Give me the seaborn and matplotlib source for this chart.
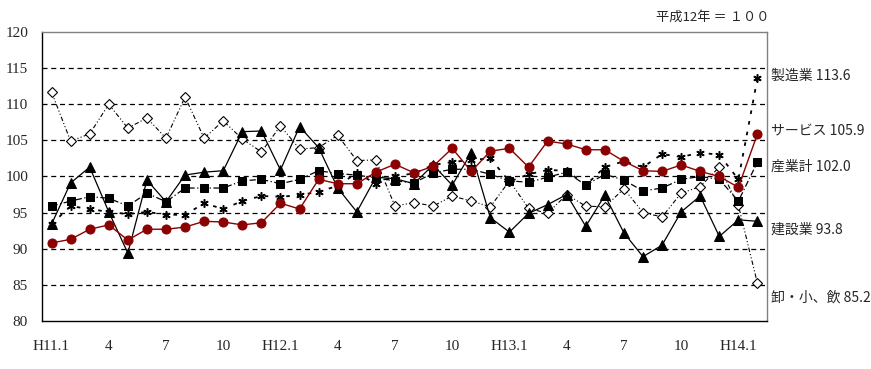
import numpy as np
import pandas as pd
import matplotlib
matplotlib.use("Agg")
import matplotlib.pyplot as plt
import seaborn as sns

# 平成11年1月〜平成14年2月（月次）
months = list(range(38))
tick_pos = list(range(0, 38, 3))
tick_labels = ["H11.1", "4", "7", "10", "H12.1", "4", "7", "10",
               "H13.1", "4", "7", "10", "H14.1"]

sangyo = [95.9, 96.6, 97.2, 97.0, 95.9, 97.7, 96.5, 98.4, 98.4, 98.4,
          99.4, 99.6, 99.0, 99.6, 100.8, 100.4, 100.2, 99.8, 99.4, 99.1,
          100.5, 101.0, 101.0, 100.3, 99.4, 99.2, 99.9, 100.6, 98.8, 100.3,
          99.5, 98.0, 98.4, 99.6, 100.0, 99.6, 96.6, 102.0]
seizo = [93.4, 95.9, 95.5, 95.1, 94.8, 95.1, 94.7, 94.7, 96.3, 95.5,
         96.6, 97.3, 97.2, 97.4, 97.9, 98.7, 100.5, 99.0, 100.1, 100.4,
         101.6, 102.0, 102.3, 102.5, 99.3, 100.3, 100.9, 100.8, 98.8, 101.3,
         102.1, 101.3, 103.1, 102.7, 103.3, 103.0, 99.6, 113.6]
kensetsu = [93.4, 99.1, 101.3, 95.1, 89.4, 99.5, 96.5, 100.2, 100.6, 100.8,
            106.2, 106.3, 100.9, 106.9, 104.0, 98.4, 95.1, 99.9, 99.7, 99.0,
            101.6, 98.8, 103.3, 94.3, 92.3, 94.9, 96.1, 97.5, 93.1, 97.4,
            92.2, 88.9, 90.5, 95.1, 97.3, 91.7, 94.0, 93.8]
oroshi = [111.7, 104.9, 105.9, 110.0, 106.7, 108.1, 105.3, 111.0, 105.3, 107.7,
          105.2, 103.4, 107.0, 103.8, 104.0, 105.7, 102.2, 102.3, 95.9, 96.4,
          95.9, 97.3, 96.6, 95.8, 99.4, 95.6, 94.9, 97.5, 95.9, 95.8,
          98.3, 95.0, 94.4, 97.7, 98.6, 101.3, 96.0, 85.2]
service = [90.8, 91.3, 92.7, 93.3, 91.2, 92.7, 92.7, 93.0, 93.8, 93.7,
           93.3, 93.6, 96.3, 95.5, 99.6, 99.0, 99.0, 100.6, 101.7, 100.5,
           101.4, 103.9, 100.7, 103.5, 103.9, 101.3, 104.9, 104.5, 103.7, 103.7,
           102.1, 100.8, 100.7, 101.6, 100.7, 100.0, 98.5, 105.9]

end_labels = ["製造業 113.6", "サービス 105.9", "産業計 102.0", "建設業 93.8", "卸・小、飲 85.2"]
end_label_y = [114.0, 106.3, 101.3, 92.6, 83.3]

sns.set_style("white")
plt.rcParams['font.family'] = ['Noto Sans CJK JP', 'DejaVu Sans']

fig = plt.figure(figsize=(8.71, 3.69), dpi=100)
ax = fig.add_axes([0.0482, 0.1301, 0.8324, 0.7832])

df = pd.DataFrame({"month": months, "sangyo": sangyo, "seizo": seizo,
                   "kensetsu": kensetsu, "oroshi": oroshi, "service": service})

# 破線の目盛り線
for g in [85, 90, 95, 100, 105, 110, 115]:
    ax.axhline(g, color="black", lw=0.9, ls=(0, (4, 3)), zorder=0)

sns.lineplot(data=df, x="month", y="oroshi", ax=ax, color="black", lw=0.8,
             linestyle=(0, (4, 2, 1, 2, 1, 2)), marker="D", markersize=5,
             markerfacecolor="white", markeredgecolor="black", markeredgewidth=0.8)
sns.lineplot(data=df, x="month", y="seizo", ax=ax, color="black", lw=1.3,
             linestyle=(0, (2, 4)), marker=(6, 2, 0), markersize=6,
             markeredgecolor="black", markeredgewidth=1.1)
sns.lineplot(data=df, x="month", y="sangyo", ax=ax, color="black", lw=0.9,
             linestyle=(0, (5, 2, 1, 2)), marker="s", markersize=6,
             markeredgecolor="black")
sns.lineplot(data=df, x="month", y="kensetsu", ax=ax, color="black", lw=0.9,
             linestyle="-", marker="^", markersize=7, markeredgecolor="black")
sns.lineplot(data=df, x="month", y="service", ax=ax, color="#8b0000", lw=1.0,
             linestyle="-", marker="o", markersize=6.5, markeredgecolor="#8b0000")

ax.set_xlim(-0.5, 37.5)
ax.set_ylim(80, 120)
ax.set_yticks(range(80, 121, 5))
ax.set_xticks(tick_pos)
ax.set_xticklabels(tick_labels, family=['Liberation Serif', 'DejaVu Serif'], fontsize=11)
ax.set_yticklabels([str(v) for v in range(80, 121, 5)],
                   family=['Liberation Serif', 'DejaVu Serif'], fontsize=11)
ax.set_xticks(np.arange(-0.5, 38, 1), minor=True)
ax.tick_params(axis="x", which="major", length=0, pad=14)
ax.tick_params(axis="x", which="minor", direction="in", length=4, width=0.8, color="black")
ax.tick_params(axis="y", length=0, pad=10)
ax.set_xlabel("")
ax.set_ylabel("")

for side in ["left", "bottom"]:
    ax.spines[side].set_color("black")
    ax.spines[side].set_linewidth(1.0)
for side in ["top", "right"]:
    ax.spines[side].set_color("#808080")
    ax.spines[side].set_linewidth(1.0)

for txt, yv in zip(end_labels, end_label_y):
    ax.text(37.7, yv, txt, fontsize=10, va="center", ha="left", clip_on=False)

fig.text(0.753, 0.953, "平成12年 ＝ １００", fontsize=9.5, ha="left", va="center")

fig.savefig("out.png", dpi=100)
